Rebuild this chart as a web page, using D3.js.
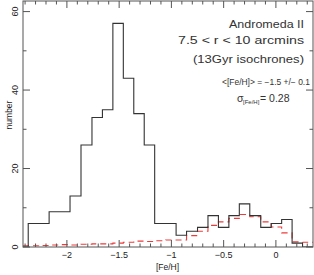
<!DOCTYPE html>
<html>
<head>
<meta charset="utf-8">
<script src="https://cdn.jsdelivr.net/npm/d3@7"></script>
<style>
html,body{margin:0;padding:0;background:#fff;}
svg{display:block;font-family:"Liberation Sans",Arial,sans-serif;}
</style>
</head>
<body>
<svg id="chart" width="314" height="275"></svg>
<script>
// ── data ──
const binEdges=[-2.37,-2.27,-2.17,-2.07,-1.97,-1.865,-1.76,-1.66,-1.56,-1.46,-1.36,-1.26,-1.16,-1.055,-0.955,-0.855,-0.75,-0.65,-0.55,-0.45,-0.35,-0.25,-0.145,-0.045,0.055,0.155,0.255,0.36];
const observed=[6,6,9,9,13,26,33,35,57,43,34,26,6,6,3,4,5,8,5,8,11,8,5,6,7,1,0];
const model=[0.3,0.4,0.5,0.6,0.5,0.7,0.8,0.8,1.0,1.2,1.5,1.4,1.6,1.8,1.8,2.9,4.0,5.5,6.4,7.3,8.3,7.7,6.4,5.1,3.6,1.3,1.2];
const xTicks=[-2,-1.5,-1,-0.5,0];
const yTicks=[0,20,40,60];
const labels=["Andromeda II","7.5 < r < 10 arcmins","(13Gyr isochrones)"];

const W=314,H=275;
const M={l:23,r:313,t:1,b:247};
const x=d3.scaleLinear().domain([-2.42,0.355]).range([M.l,M.r]);
const y=d3.scaleLinear().domain([0,62.7]).range([M.b,M.t]);
const svg=d3.select('#chart');

// step series: [edge, value] pairs, last edge closes the final bin
function steps(vals,lead){
  const pts=[];
  if(lead!=null)pts.push([x.domain()[0],lead]);
  vals.forEach((v,i)=>pts.push([binEdges[i],v]));
  pts.push([binEdges[vals.length],vals[vals.length-1]]);
  return pts;
}
const line=d3.line().x(d=>x(d[0])).y(d=>y(d[1])).curve(d3.curveStepAfter);

const g=svg.append('g');
g.append('defs').append('clipPath').attr('id','clip')
  .append('rect').attr('x',M.l).attr('y',M.t).attr('width',M.r-M.l).attr('height',M.b-M.t);

const plot=g.append('g').attr('clip-path','url(#clip)');
plot.append('path').attr('d',line(steps(model,0.3)))
  .attr('fill','none').attr('stroke','#f03a3a').attr('stroke-width',1.1).attr('stroke-dasharray','6,4');
const obsPts=steps(observed,0);obsPts.push([x.domain()[1],0]);
plot.append('path').attr('d',line(obsPts))
  .attr('fill','none').attr('stroke','#333').attr('stroke-width',1.1);

// frame
g.append('rect').attr('x',M.l).attr('y',M.t).attr('width',M.r-M.l).attr('height',M.b-M.t)
  .attr('fill','none').attr('stroke','#555').attr('stroke-width',1);

// ticks: major + minor on all four sides
const xMinor=d3.range(-2.4,0.36,0.1).map(v=>+v.toFixed(2));
const yMinor=d3.range(0,63,10);
const tk=g.append('g').attr('stroke','#555').attr('stroke-width',1);
xMinor.forEach(v=>{
  const major=xTicks.some(t=>Math.abs(t-v)<1e-6);
  const len=major?7:3.5;
  tk.append('line').attr('x1',x(v)).attr('x2',x(v)).attr('y1',M.b).attr('y2',M.b-len);
  tk.append('line').attr('x1',x(v)).attr('x2',x(v)).attr('y1',M.t).attr('y2',M.t+len);
});
yMinor.forEach(v=>{
  const major=yTicks.includes(v);
  const len=major?7:3.5;
  tk.append('line').attr('x1',M.l).attr('x2',M.l+len).attr('y1',y(v)).attr('y2',y(v));
  tk.append('line').attr('x1',M.r).attr('x2',M.r-len).attr('y1',y(v)).attr('y2',y(v));
});

// tick labels
g.selectAll('.xl').data(xTicks).enter().append('text')
  .attr('x',d=>x(d)).attr('y',258).attr('text-anchor','middle')
  .attr('font-size',9).attr('fill','#222')
  .text(d=>d===0?'0':'\u2212'+Math.abs(d));
g.selectAll('.yl').data(yTicks).enter().append('text')
  .attr('transform',d=>`translate(18,${y(d)}) rotate(-90)`).attr('text-anchor','middle')
  .attr('font-size',9).attr('fill','#222').text(d=>d);

// axis titles
g.append('text').attr('x',167.5).attr('y',270).attr('text-anchor','middle')
  .attr('font-size',8.5).attr('fill','#222').text('[Fe/H]');
g.append('text').attr('transform','translate(12,115) rotate(-90)').attr('text-anchor','middle')
  .attr('font-size',8.5).attr('fill','#222').text('number');

// annotation — widths matched to the reference's stroke font
const ann=g.append('g').attr('font-size',11).attr('fill','#333');
const spans=[[229,28,75],[178,44,126],[193,63,111]];
spans.forEach((s,i)=>ann.append('text').attr('x',s[0]).attr('y',s[1])
  .attr('textLength',s[2]).attr('lengthAdjust','spacingAndGlyphs').text(labels[i]));
// mean line sized to fit the space between x=222 and the frame
const mean=ann.append('text').attr('x',222).attr('y',85).attr('font-size',10)
  .text('<[Fe/H]> = \u22121.5 +/\u2212 0.1');
const w10=mean.node().getComputedTextLength();
mean.attr('font-size',Math.min(11,10*88/w10).toFixed(2));
const sig=ann.append('text').attr('y',101.5).attr('font-size',10.5);
sig.append('tspan').attr('x',237).text('\u03c3');
sig.append('tspan').attr('x',243).attr('font-size',6).attr('dy',2).text('[Fe/H]');
sig.append('tspan').attr('x',260).attr('dy',-2).text('= 0.28');
</script>
</body>
</html>
